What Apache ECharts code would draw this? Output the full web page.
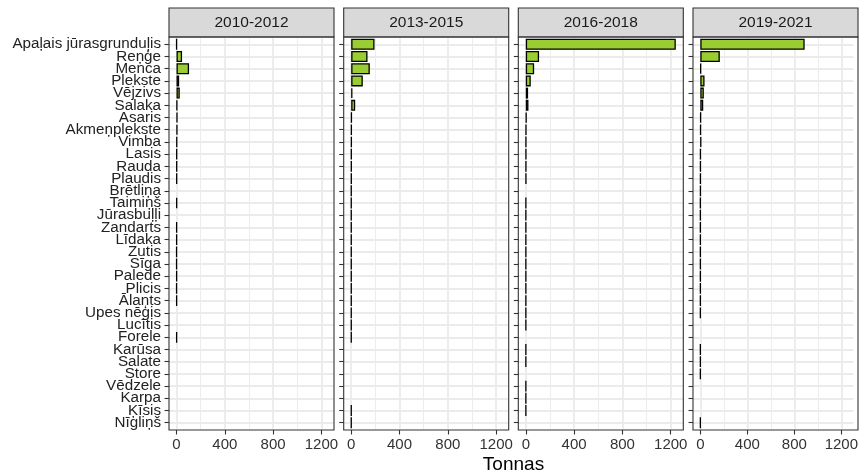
<!DOCTYPE html>
<html>
<head>
<meta charset="utf-8">
<script src="https://cdn.jsdelivr.net/npm/echarts@6/dist/echarts.min.js"></script>
<style>
  html, body { margin: 0; padding: 0; background: #fff; }
  #chart { width: 861px; height: 474px; }
</style>
</head>
<body>
<div id="chart"></div>
<script>
  // sugas (no augšas uz leju)
  const species = [
    'Apaļais jūrasgrunduļis', 'Reņģe', 'Menca', 'Plekste', 'Vējzivs', 'Salaka',
    'Asaris', 'Akmeņplekste', 'Vimba', 'Lasis', 'Rauda', 'Plaudis', 'Brētliņa',
    'Taimiņš', 'Jūrasbuļļi', 'Zandarts', 'Līdaka', 'Zutis', 'Sīga', 'Palede',
    'Plicis', 'Ālants', 'Upes nēģis', 'Lucītis', 'Forele', 'Karūsa', 'Salate',
    'Store', 'Vēdzele', 'Karpa', 'Ķīsis', 'Nīgliņš'
  ];

  const periods = ['2010-2012', '2013-2015', '2016-2018', '2019-2021'];

  // tonnas, null = nav datu
  const catch2010 = [1, 46, 104, 22, 27, 6, 8, 7, 4, 3, 3, 3, null, 3, null, 2, 2, 1, 1, 2, 1, 2, null, null, 2, null, null, null, null, null, null, null];
  const catch2013 = [193, 135, 154, 96, 10, 33, 4, 3, 3, 2, 2, 2, 1, 1, 1, 1, 1, 1, 1, 1, 1, 1, 1, 1, 1, null, null, null, null, null, 1, 1];
  const catch2016 = [1242, 110, 69, 41, 19, 22, 6, 3, 2, 2, 2, 2, null, 1, 1, 1, 1, 1, 1, 1, 1, 1, 1, 1, null, 1, 1, null, 1, 1, 1, null];
  const catch2019 = [888, 166, 6, 36, 30, 25, 5, 4, 8, 2, 2, 2, 2, 1, 1, 1, 1, 1, 1, 1, 1, 1, 1, null, null, 1, 1, 1, null, null, null, 1];

  const xTicks = [0, 400, 800, 1200];
  const xMinorTicks = [200, 600, 1000];

  const seriesData = [catch2010, catch2013, catch2016, catch2019];

  const font = 'Liberation Sans, Arial, Helvetica, sans-serif';
  const panelLefts = [169, 343.7, 518.3, 693];
  const panelWidth = 165;
  const panelTop = 37;
  const panelHeight = 393;
  const stripHeight = 29;
  // ggplot diskrētās ass izplešana 0.6 kategorijas katrā pusē
  const bandH = panelHeight / (species.length + 1.2);
  const padY = 0.1 * bandH;

  // ggplot: 5% izplešana ap datiem
  const dataMax = Math.max(...seriesData.flat().filter(v => v != null));
  const xMin = -0.05 * dataMax;
  const xMax = 1.05 * dataMax;

  const chart = echarts.init(document.getElementById('chart'), null, { renderer: 'canvas' });

  const grid = [];
  const xAxis = [];
  const yAxis = [];
  const series = [];
  const graphic = [];

  periods.forEach((p, i) => {
    grid.push({
      left: panelLefts[i], top: panelTop + padY, width: panelWidth, height: panelHeight - 2 * padY,
      show: false, containLabel: false
    });

    // galvenā x ass
    xAxis.push({
      type: 'value', gridIndex: i, min: xMin, max: xMax, position: 'bottom', offset: padY,
      axisLine: { show: false, onZero: false },
      axisTick: { show: true, length: 4.5, customValues: xTicks, lineStyle: { color: '#333', width: 1.1 } },
      axisLabel: {
        customValues: xTicks, color: '#333', fontSize: 15, fontFamily: font, margin: 7,
        formatter: v => String(v)
      },
      splitLine: { show: true, lineStyle: { color: '#EBEBEB', width: 1.8 } }
    });
    // palīglīnijas
    xAxis.push({
      type: 'value', gridIndex: i, min: xMin, max: xMax, position: 'bottom',
      axisLine: { show: false, onZero: false },
      axisTick: { show: false, customValues: xMinorTicks },
      axisLabel: { show: false },
      splitLine: { show: true, lineStyle: { color: '#EBEBEB', width: 0.9 } }
    });

    yAxis.push({
      type: 'category', gridIndex: i, data: species, inverse: true, position: 'left',
      axisLine: { show: false, onZero: false },
      axisTick: { show: true, length: 4.5, alignWithLabel: true, lineStyle: { color: '#333', width: 1.1 } },
      axisLabel: {
        show: i === 0, interval: 0, color: '#222', fontSize: 15.2,
        fontFamily: font, margin: 8, lineHeight: 12
      },
      splitLine: { show: false }
    });
    // horizontālās režģa līnijas kategoriju centros
    yAxis.push({
      type: 'value', gridIndex: i, min: -0.5, max: species.length - 0.5, inverse: true, position: 'left',
      axisLine: { show: false, onZero: false },
      axisTick: { show: false, customValues: species.map((s, k) => k) },
      axisLabel: { show: false },
      splitLine: { show: true, lineStyle: { color: '#EBEBEB', width: 1.8 } }
    });

    series.push({
      type: 'bar', name: p,
      xAxisIndex: 2 * i, yAxisIndex: 2 * i,
      data: seriesData[i],
      barWidth: '90%',
      itemStyle: { color: '#9ACD32', borderColor: '#000', borderWidth: 1.3 },
      silent: true
    });

    // paneļa rāmis
    graphic.push({
      type: 'rect', z: 100,
      shape: { x: panelLefts[i], y: panelTop, width: panelWidth, height: panelHeight },
      style: { fill: 'rgba(0,0,0,0)', stroke: '#333', lineWidth: 1.1 }
    });
    graphic.push({
      type: 'rect',
      shape: { x: panelLefts[i], y: panelTop - stripHeight, width: panelWidth, height: stripHeight },
      style: { fill: '#D9D9D9', stroke: '#333', lineWidth: 1.1 }
    });
    graphic.push({
      type: 'text',
      x: panelLefts[i] + panelWidth / 2, y: panelTop - stripHeight / 2,
      style: {
        text: p, fill: '#1A1A1A', font: '15.5px ' + font,
        textAlign: 'center', textVerticalAlign: 'middle'
      }
    });
  });

  graphic.push({
    type: 'text',
    x: (panelLefts[0] + panelLefts[3] + panelWidth) / 2, y: 465,
    style: {
      text: 'Tonnas', fill: '#000', font: '19px ' + font,
      textAlign: 'center', textVerticalAlign: 'middle'
    }
  });

  chart.setOption({
    animation: false,
    backgroundColor: '#fff',
    grid, xAxis, yAxis, series, graphic
  });
</script>
</body>
</html>
